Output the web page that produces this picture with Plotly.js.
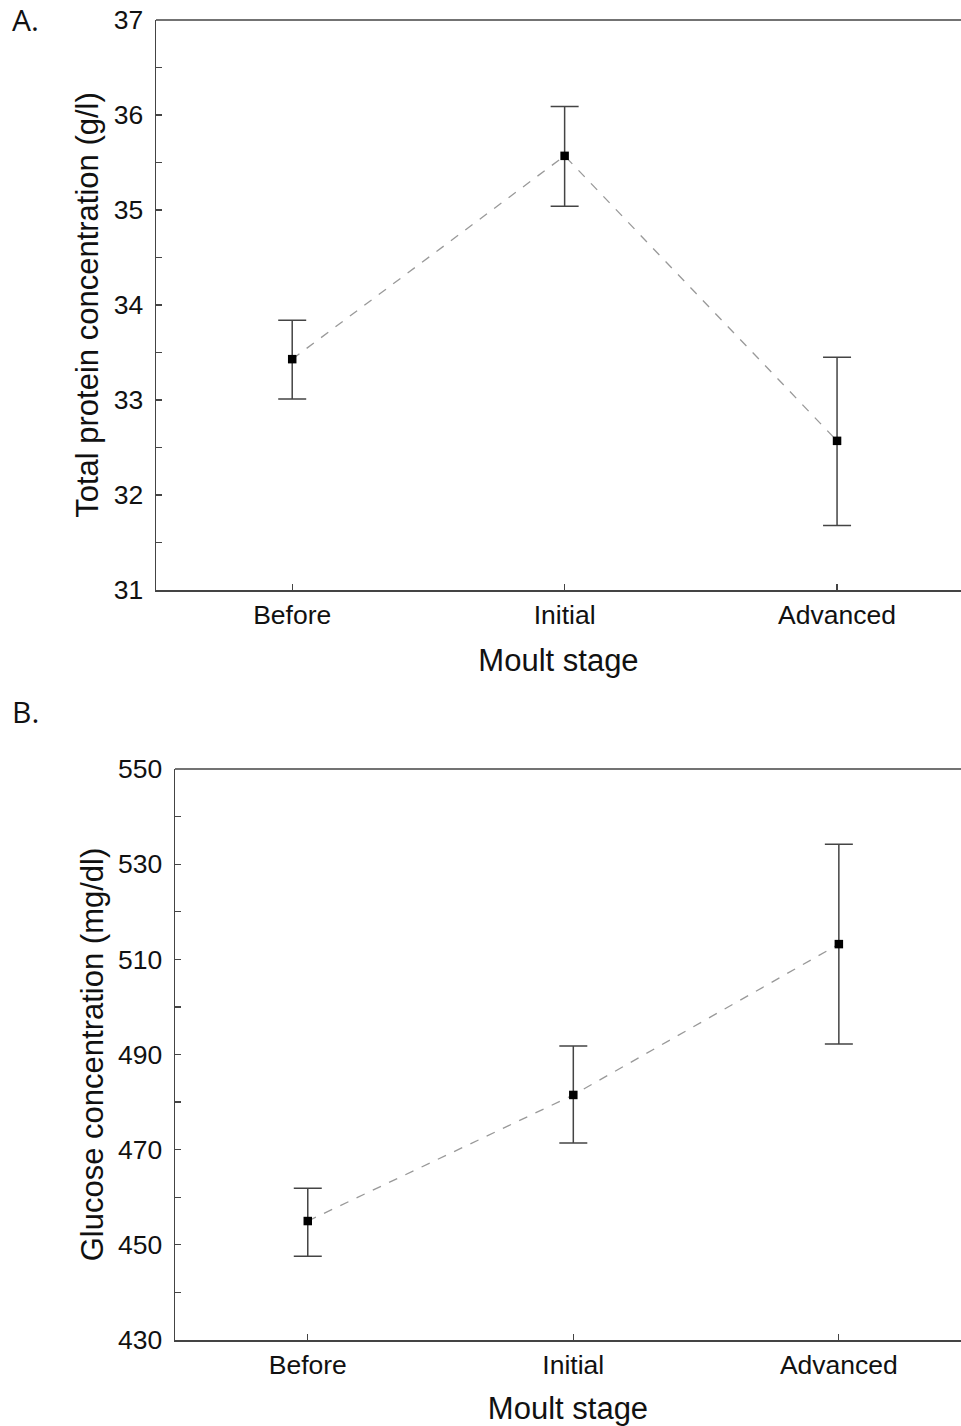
<!DOCTYPE html>
<html>
<head>
<meta charset="utf-8">
<script src="https://cdn.plot.ly/plotly-3.0.1.min.js"></script>
<style>html,body{margin:0;padding:0;background:#fff;}#chart{width:961px;height:1426px;}</style>
</head>
<body>
<div id="chart"></div>
<script>
// Data
const stages = ["Before", "Initial", "Advanced"];
const proteinMean = [33.43, 35.57, 32.57];
const proteinUpper = [33.84, 36.09, 33.45];
const proteinLower = [33.01, 35.04, 31.68];
const glucoseMean = [455.0, 481.5, 513.2];
const glucoseUpper = [461.9, 491.8, 534.2];
const glucoseLower = [447.6, 471.4, 492.2];

const FONT = "Liberation Sans, Arial, sans-serif";
const AX = "#444";

function mkTrace(mean, up, lo, xa, ya) {
  return {
    x: stages, y: mean, xaxis: xa, yaxis: ya,
    type: "scatter", mode: "lines+markers",
    line: {color: "#999", width: 1.3, dash: "dash"},
    marker: {symbol: "square", size: 8.5, color: "#000"},
    error_y: {
      type: "data", symmetric: false,
      array: up.map((u, i) => u - mean[i]),
      arrayminus: lo.map((l, i) => mean[i] - l),
      color: "#444", thickness: 1.5, width: 14
    },
    hoverinfo: "x+y", showlegend: false
  };
}

const data = [
  mkTrace(proteinMean, proteinUpper, proteinLower, "x", "y"),
  mkTrace(glucoseMean, glucoseUpper, glucoseLower, "x2", "y2")
];

const H = 1426, W = 961;
const top1 = 1 - 20 / H, bot1 = 1 - 590 / H;
const top2 = 1 - 769 / H, bot2 = 1 - 1340 / H;

const tickFont = {family: FONT, size: 26.5, color: "#111"};
const titleFont = {family: FONT, size: 31, color: "#111"};

const common = {
  showline: true, linecolor: AX, linewidth: 1.5,
  ticks: "inside", ticklen: 6, tickcolor: AX, tickwidth: 1.2,
  tickfont: tickFont, showgrid: false, zeroline: false
};

const layout = {
  width: W, height: H,
  margin: {l: 0, r: 0, t: 0, b: 0},
  paper_bgcolor: "#fff", plot_bgcolor: "#fff",
  font: {family: FONT, color: "#111"},
  xaxis: Object.assign({}, common, {
    domain: [156 / W, 1], anchor: "y", type: "category",
    range: [-0.5, 2.455],
    ticklabelstandoff: 1,
    title: {text: "Moult stage", font: titleFont, standoff: 20}
  }),
  yaxis: Object.assign({}, common, {
    domain: [bot1, top1], anchor: "x",
    range: [31, 37], dtick: 1, tick0: 31,
    minor: {dtick: 0.5, ticks: "inside", ticklen: 6, tickcolor: AX, tickwidth: 1.2, showgrid: false},
    ticklabelstandoff: 6,
    title: {text: "Total protein concentration (g/l)", font: titleFont, standoff: 6}
  }),
  xaxis2: Object.assign({}, common, {
    domain: [175 / W, 1], anchor: "y2", type: "category",
    range: [-0.5, 2.46],
    ticklabelstandoff: 1,
    title: {text: "Moult stage", font: titleFont, standoff: 18}
  }),
  yaxis2: Object.assign({}, common, {
    domain: [bot2, top2], anchor: "x2",
    range: [430, 550], dtick: 20, tick0: 430,
    minor: {dtick: 10, ticks: "inside", ticklen: 6, tickcolor: AX, tickwidth: 1.2, showgrid: false},
    ticklabelstandoff: 6,
    title: {text: "Glucose concentration (mg/dl)", font: titleFont, standoff: 5}
  }),
  shapes: [
    {type: "line", xref: "x domain", yref: "y domain", x0: 0, x1: 1, y0: 1, y1: 1, line: {color: AX, width: 1.5}},
    {type: "line", xref: "x2 domain", yref: "y2 domain", x0: 0, x1: 1, y0: 1, y1: 1, line: {color: AX, width: 1.5}}
  ],
  annotations: [
    {text: "A.", xref: "paper", yref: "paper", x: 10 / W, y: 1 + 3 / H, xanchor: "left", yanchor: "top", showarrow: false, font: {family: "Open Sans, sans-serif", size: 30, color: "#111"}},
    {text: "B.", xref: "paper", yref: "paper", x: 10 / W, y: 1 - 689 / H, xanchor: "left", yanchor: "top", showarrow: false, font: {family: "Open Sans, sans-serif", size: 30, color: "#111"}}
  ]
};

Plotly.newPlot("chart", data, layout, {displayModeBar: false, staticPlot: true});
</script>
</body>
</html>
